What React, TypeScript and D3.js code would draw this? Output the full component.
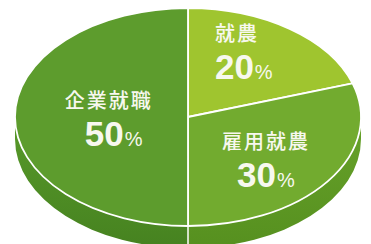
import React from "react";
import * as d3 from "d3";

// ---- data ----
const categories = ["就農", "雇用就農", "企業就職"];
const values = [20, 30, 50];

// ---- styles / layout ----
const W = 371;
const H = 244;
const topColors = ["#9fc52f", "#72ab2f", "#5d9c2d"];
const sideColors = [
  ["#8ab528", "#78a224"],
  ["#67a22a", "#56901f"],
  ["#589a2a", "#468220"],
];
const cx = 188;
const cy = 117;
const rx = 173;
const ry = 109;
const depth = 22;
const labelFactor = 0.55;
const labelNudge = [
  { dx: -29, dy: -27.5, vdx: 0 },
  { dx: -43, dy: -3, vdx: 15 },
  { dx: -28, dy: -9, vdx: 20 },
];
const lineGap = 38;

const pt = (a: number, dy = 0): [number, number] => [
  cx + rx * Math.sin(a),
  cy - ry * Math.cos(a) + dy,
];

export default function App() {
  const pie = d3
    .pie<number>()
    .sort(null)
    .value((d) => d);
  const arcs = pie(values);
  const arcGen = d3
    .arc<d3.PieArcDatum<number>>()
    .innerRadius(0)
    .outerRadius(rx);

  const sides = arcs
    .map((a, i) => {
      const a0 = Math.max(a.startAngle, Math.PI / 2);
      const a1 = Math.min(a.endAngle, (3 * Math.PI) / 2);
      if (a1 <= a0) return null;
      const p0 = pt(a0);
      const p1 = pt(a1);
      const q1 = pt(a1, depth);
      const q0 = pt(a0, depth);
      const d = `M${p0[0]},${p0[1]} A${rx},${ry} 0 0 1 ${p1[0]},${p1[1]} L${q1[0]},${q1[1]} A${rx},${ry} 0 0 0 ${q0[0]},${q0[1]} Z`;
      return { d, i };
    })
    .filter(Boolean) as { d: string; i: number }[];

  const sideDividers = arcs
    .map((a) => a.startAngle)
    .filter((ang) => ang > Math.PI / 2 && ang < (3 * Math.PI) / 2);

  return (
    <svg
      width={W}
      height={H}
      style={{ position: "absolute", left: 0, top: 0, background: "#fff" }}
    >
      <defs>
        {sideColors.map((c, i) => (
          <linearGradient key={i} id={`side${i}`} x1="0" y1="0" x2="0" y2="1">
            <stop offset="0%" stopColor={c[0]} />
            <stop offset="100%" stopColor={c[1]} />
          </linearGradient>
        ))}
      </defs>
      {sides.map((s) => (
        <path key={s.i} d={s.d} fill={`url(#side${s.i})`} />
      ))}
      {sideDividers.map((ang, i) => {
        const p = pt(ang);
        const q = pt(ang, depth);
        return (
          <line
            key={i}
            x1={p[0]}
            y1={p[1]}
            x2={q[0]}
            y2={q[1]}
            stroke="#fff"
            strokeWidth={1.5}
          />
        );
      })}
      <g transform={`translate(${cx},${cy}) scale(1,${ry / rx})`}>
        {arcs.map((a, i) => (
          <path
            key={i}
            d={arcGen(a) || ""}
            fill={topColors[i]}
            stroke="#fff"
            strokeWidth={1.8}
            vectorEffect="non-scaling-stroke"
            strokeLinejoin="round"
          />
        ))}
      </g>
      {arcs.map((a, i) => {
        const mid = (a.startAngle + a.endAngle) / 2;
        const bx = cx + rx * labelFactor * Math.sin(mid);
        const by = cy - ry * labelFactor * Math.cos(mid);
        const n = labelNudge[i];
        const x = bx + n.dx;
        const y = by + n.dy;
        return (
          <g key={i} fill="#f7f8ef">
            <text
              x={x}
              y={y}
              fontFamily="'Noto Sans CJK JP', sans-serif"
              fontSize={20}
              fontWeight={500}
              letterSpacing={2}
            >
              {categories[i]}
            </text>
            <text
              x={x + n.vdx}
              y={y + lineGap}
              fontFamily="'Liberation Sans', Arial, sans-serif"
              fontWeight="bold"
            >
              <tspan fontSize={35}>{values[i]}</tspan>
              <tspan fontSize={20} fontWeight="normal" dx={1}>
                %
              </tspan>
            </text>
          </g>
        );
      })}
    </svg>
  );
}
